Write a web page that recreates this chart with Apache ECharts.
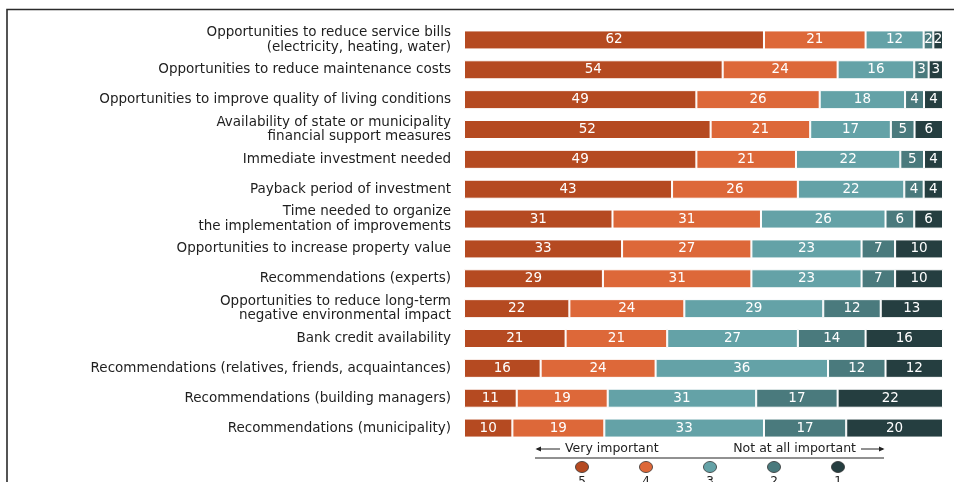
<!DOCTYPE html>
<html>
<head>
<meta charset="utf-8">
<script src="https://cdn.jsdelivr.net/npm/echarts@6/dist/echarts.min.js"></script>
<style>
  html, body { margin: 0; padding: 0; background: #fff; }
  #chart { width: 954px; height: 482px; }
</style>
</head>
<body>
<div id="chart"></div>
<script>
// Motivating factors, share of respondents by importance rating (5 = very important ... 1 = not at all important)
const categories = [
  'Opportunities to reduce service bills\n(electricity, heating, water)',
  'Opportunities to reduce maintenance costs',
  'Opportunities to improve quality of living conditions',
  'Availability of state or municipality\nfinancial support measures',
  'Immediate investment needed',
  'Payback period of investment',
  'Time needed to organize\nthe implementation of improvements',
  'Opportunities to increase property value',
  'Recommendations (experts)',
  'Opportunities to reduce long-term\nnegative environmental impact',
  'Bank credit availability',
  'Recommendations (relatives, friends, acquaintances)',
  'Recommendations (building managers)',
  'Recommendations (municipality)'
];

const rating5 = [62, 54, 49, 52, 49, 43, 31, 33, 29, 22, 21, 16, 11, 10];
const rating4 = [21, 24, 26, 21, 21, 26, 31, 27, 31, 24, 21, 24, 19, 19];
const rating3 = [12, 16, 18, 17, 22, 22, 26, 23, 23, 29, 27, 36, 31, 33];
const rating2 = [2, 3, 4, 5, 5, 4, 6, 7, 7, 12, 14, 12, 17, 17];
const rating1 = [2, 3, 4, 6, 4, 4, 6, 10, 10, 13, 16, 12, 22, 20];

const ratingNames = ['5', '4', '3', '2', '1'];
const ratingColors = ['#B54A21', '#DD6839', '#64A2A7', '#4A7A7D', '#253E40'];
const scaleEnds = ['Very important', 'Not at all important'];

const ratings = [rating5, rating4, rating3, rating2, rating1];
// each row is shown as a 100% stacked bar
const rowTotals = categories.map((_, i) => ratings.reduce((s, r) => s + r[i], 0));

const chart = echarts.init(document.getElementById('chart'));
const FONT = '"DejaVu Sans", sans-serif';

const series = ratings.map((vals, k) => ({
  name: ratingNames[k],
  type: 'bar',
  stack: 'total',
  barWidth: 19,
  data: vals.map((v, i) => ({ value: v / rowTotals[i] * 100, raw: v })),
  itemStyle: { color: ratingColors[k], borderColor: '#ffffff', borderWidth: 1 },
  label: {
    show: true,
    position: 'inside',
    color: '#ffffff',
    fontFamily: FONT,
    fontSize: 13.5,
    formatter: p => String(p.data.raw)
  },
  emphasis: { disabled: true }
}));

// legend: circles with rating numbers, under a "very -> not at all important" scale line
const legendX = [582, 646, 710, 774, 838];
const graphic = [
  { type: 'rect', shape: { x: 7, y: 9.5, width: 1000, height: 600 },
    style: { fill: 'none', stroke: '#2b2b2b', lineWidth: 1.6 }, silent: true },
  { type: 'line', shape: { x1: 535, y1: 458, x2: 884, y2: 458 },
    style: { stroke: '#222', lineWidth: 1 } },
  { type: 'line', shape: { x1: 537, y1: 449, x2: 560, y2: 449 },
    style: { stroke: '#222', lineWidth: 1 } },
  { type: 'polygon', shape: { points: [[541, 446.5], [535.5, 449], [541, 451.5]] },
    style: { fill: '#222' } },
  { type: 'text', left: 565, top: 442,
    style: { text: scaleEnds[0], fontFamily: FONT, fontSize: 12.5, fill: '#222' } },
  { type: 'text', right: 954 - 856, top: 442,
    style: { text: scaleEnds[1], fontFamily: FONT, fontSize: 12.5, fill: '#222', align: 'right' } },
  { type: 'line', shape: { x1: 861, y1: 449, x2: 883, y2: 449 },
    style: { stroke: '#222', lineWidth: 1 } },
  { type: 'polygon', shape: { points: [[879, 446.5], [884.5, 449], [879, 451.5]] },
    style: { fill: '#222' } }
];
ratingNames.forEach((n, k) => {
  graphic.push({ type: 'ellipse', shape: { cx: legendX[k], cy: 467, rx: 6.5, ry: 5.5 },
    style: { fill: ratingColors[k], stroke: '#333', lineWidth: 0.8 } });
  graphic.push({ type: 'text', x: legendX[k], y: 476,
    style: { text: n, fontFamily: FONT, fontSize: 12, fill: '#222', align: 'center' } });
});

chart.setOption({
  animation: false,
  grid: { left: 464, right: 11, top: 25, bottom: 39, containLabel: false },
  xAxis: { type: 'value', min: 0, max: 100, show: false },
  yAxis: {
    type: 'category',
    inverse: true,
    data: categories,
    axisLine: { show: false },
    axisTick: { show: false },
    axisLabel: {
      margin: 13,
      color: '#1e1e1e',
      fontFamily: FONT,
      fontSize: 13.5,
      lineHeight: 14.5,
      align: 'right'
    }
  },
  series: series,
  graphic: graphic
});
</script>
</body>
</html>
